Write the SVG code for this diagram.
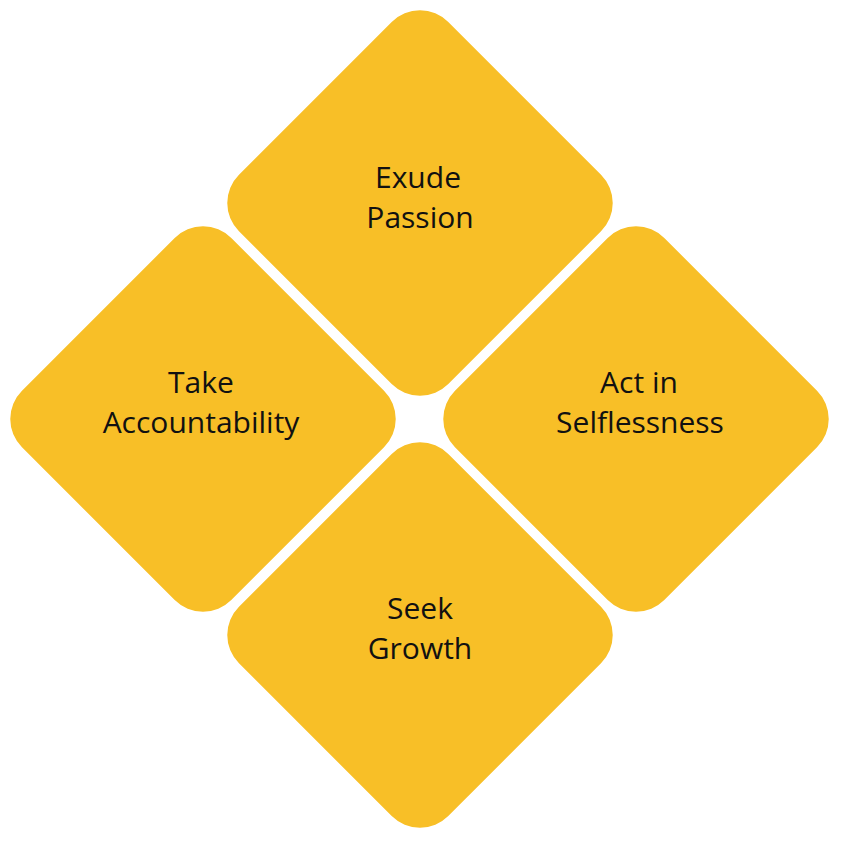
<svg xmlns="http://www.w3.org/2000/svg" width="844" height="844" viewBox="0 0 844 844">
<style>
.d{fill:#F8BF27}
.t{font-family:"Open Sans","DejaVu Sans",sans-serif;font-size:30px;fill:#111;text-anchor:middle}
</style>
<rect width="844" height="844" fill="#fff"/>
<g id="top"><rect class="d" x="-148" y="-148" width="296" height="296" rx="40" transform="translate(420,203) rotate(45)"/>
<text class="t" x="418" y="188">Exude</text><text class="t" x="420" y="228">Passion</text></g>
<g id="left"><rect class="d" x="-148" y="-148" width="296" height="296" rx="40" transform="translate(203,419) rotate(45)"/>
<text class="t" x="201" y="393">Take</text><text class="t" x="201" y="433">Accountability</text></g>
<g id="right"><rect class="d" x="-148" y="-148" width="296" height="296" rx="40" transform="translate(636,419) rotate(45)"/>
<text class="t" x="639" y="393">Act in</text><text class="t" x="640" y="433">Selflessness</text></g>
<g id="bottom"><rect class="d" x="-148" y="-148" width="296" height="296" rx="40" transform="translate(420,635) rotate(45)"/>
<text class="t" x="420" y="619">Seek</text><text class="t" x="420" y="659">Growth</text></g>
<g id="connectors"/>
</svg>
